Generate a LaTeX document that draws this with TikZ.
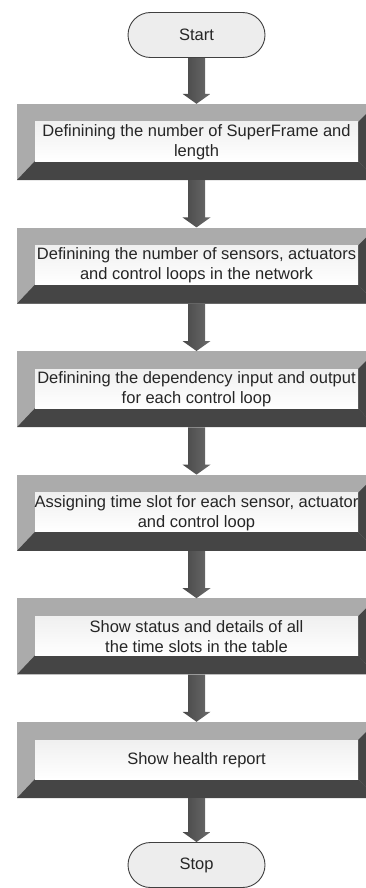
\documentclass[tikz,border=0pt]{standalone}
\usepackage{fontspec}
\setmainfont{Liberation Sans}
\usetikzlibrary{calc,shapes.misc}
\definecolor{bevlight}{HTML}{ABABAB}
\definecolor{bevdark}{HTML}{454545}
\definecolor{termfill}{HTML}{EDEDED}
\newcommand\flowarr[2]{\shade[flowarrow] ($(#1.south)+(-8.5,0)$) -- ($(#2.north)+(-8.5,-10)$) -- ($(#2.north)+(-14,-10)$) -- (#2.north) -- ($(#2.north)+(14,-10)$) -- ($(#2.north)+(8.5,-10)$) -- ($(#1.south)+(8.5,0)$) -- cycle;}
\begin{document}
\begin{tikzpicture}[x=1pt,y=-1pt,
  txt/.style={font=\fontsize{16.5}{20}\selectfont, align=center, text=black!85},
  stepbox/.style={txt, minimum width=359pt, minimum height=76pt, inner sep=0pt,
    path picture={
      \path (path picture bounding box.north west) coordinate (pNW)
            (path picture bounding box.south east) coordinate (pSE);
      \fill[bevlight] (pNW) rectangle (pSE);
      \fill[bevdark] (pNW|-pSE) -- ($(pNW|-pSE)+(18,-19)$) -- ($(pSE)+(-18,-19)$) -- (pSE) -- cycle;
      \fill[bevdark] (pSE|-pNW) -- ($(pSE|-pNW)+(-18,18)$) -- ($(pSE)+(-18,-19)$) -- (pSE) -- cycle;
      \shade[top color=gray!12, bottom color=white] ($(pNW)+(18,18)$) rectangle ($(pSE)+(-18,-19)$);
    }},
  term/.style={txt, rounded rectangle, draw=black!75, line width=0.9pt, fill=termfill,
    minimum width=137pt, minimum height=45pt, inner sep=0pt},
  flowarrow/.style={left color=black!72, middle color=black!22, right color=black!58}
]
\useasboundingbox (0,0) rectangle (366,888);
\node[term] (start) at (196.5,35) {Start};
\node[stepbox] (b1) at (196.5,142) {Definining the number of SuperFrame and\\length};
\node[stepbox] (b2) at (196.5,265.6) {Definining the number of sensors, actuators\\and control loops in the network};
\node[stepbox] (b3) at (196.5,389.2) {Definining the dependency input and output\\for each control loop};
\node[stepbox] (b4) at (196.5,512.8) {Assigning time slot for each sensor, actuator\\and control loop};
\node[stepbox] (b5) at (196.5,636.4) {Show status and details of all\\the time slots in the table};
\node[stepbox] (b6) at (196.5,760) {Show health report};
\node[term] (stop) at (196.5,865) {Stop};
\flowarr{start}{b1}
\flowarr{b1}{b2}
\flowarr{b2}{b3}
\flowarr{b3}{b4}
\flowarr{b4}{b5}
\flowarr{b5}{b6}
\flowarr{b6}{stop}
\end{tikzpicture}
\end{document}
